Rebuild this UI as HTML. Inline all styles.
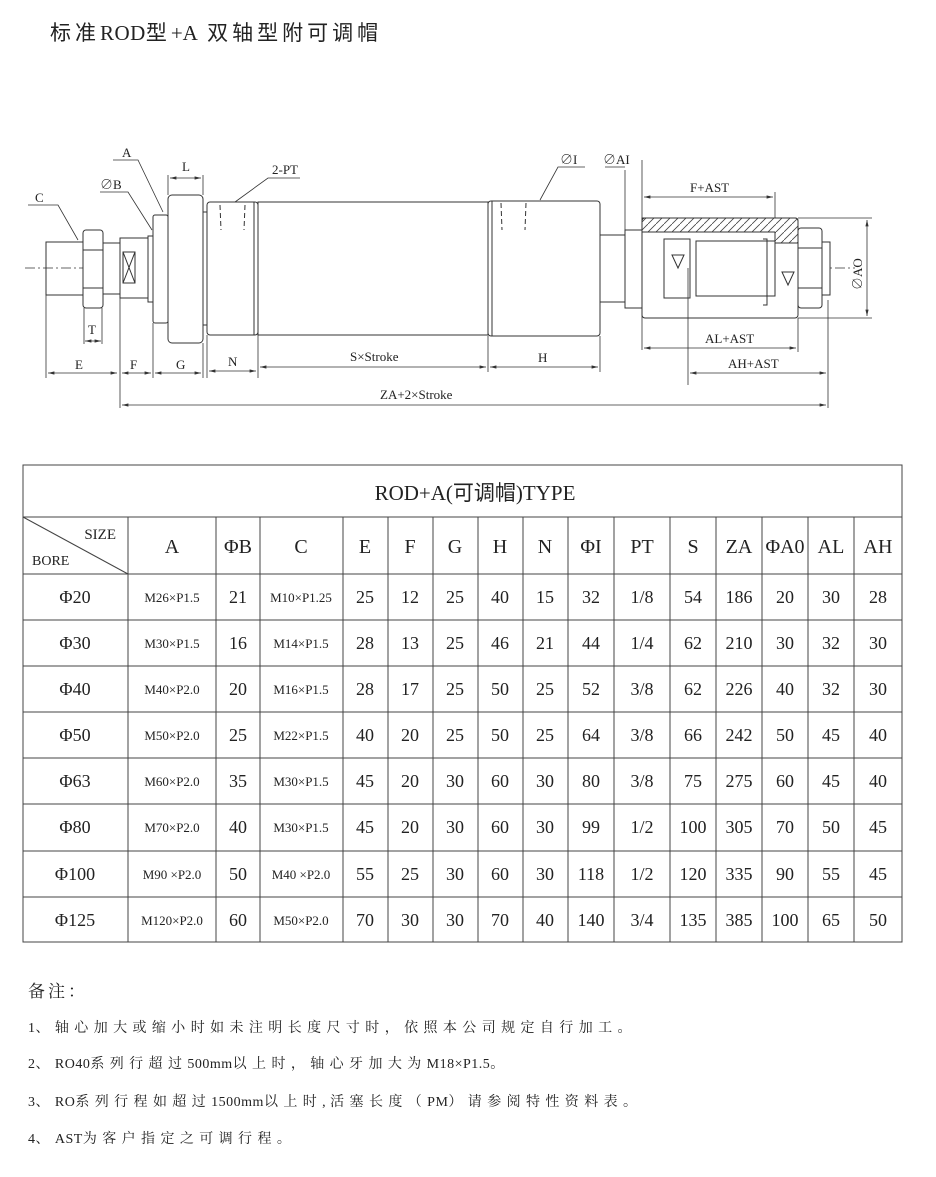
<!DOCTYPE html>
<html><head><meta charset="utf-8"><style>
html,body{margin:0;padding:0;background:#fff}
svg{display:block}
text{font-family:"Liberation Serif","Noto Serif CJK SC",serif;fill:#222}
.cj{font-family:"Liberation Serif","Noto Sans CJK SC",sans-serif}
.d{font-size:18px;text-anchor:middle}
.m{font-size:13px;text-anchor:middle}
.h{font-size:20px;text-anchor:middle}
.l{font-size:13px}
.n{font-size:14px;letter-spacing:5.4px}
.n tspan.e{letter-spacing:0.5px}
</style></head><body>
<svg width="936" height="1177" viewBox="0 0 936 1177" xmlns="http://www.w3.org/2000/svg">
<defs>
<marker id="ar" markerWidth="8" markerHeight="6" refX="8" refY="3" orient="auto-start-reverse"><path d="M0,1 L8,3 L0,5 z" fill="#333"/></marker>
<pattern id="hat" width="8" height="8" patternUnits="userSpaceOnUse"><path d="M0,8 L8,0" stroke="#444" stroke-width="0.8"/></pattern>
</defs>
<text x="50" y="40" class="cj" style="font-size:21px;letter-spacing:4px">标准<tspan style="letter-spacing:0.5px">ROD</tspan>型<tspan style="letter-spacing:0">+A</tspan>  双轴型附可调帽</text>

<g stroke="#333" stroke-width="1" fill="#fff">
<line x1="25" y1="268" x2="855" y2="268" stroke-dasharray="10,3,2,3" stroke-width="0.8"/>
<rect x="46" y="242" width="37" height="53" fill="none"/>
<rect x="83" y="230" width="20" height="78" rx="3"/>
<line x1="83" y1="250" x2="103" y2="250"/><line x1="83" y1="288" x2="103" y2="288"/>
<rect x="103" y="243" width="17" height="51"/>
<rect x="120" y="238" width="28" height="60"/>
<rect x="123" y="252" width="12" height="31"/>
<line x1="123" y1="252" x2="135" y2="283"/><line x1="135" y1="252" x2="123" y2="283"/>
<rect x="148" y="236" width="5" height="66"/>
<rect x="153" y="215" width="15" height="108" rx="2"/>
<rect x="168" y="195" width="35" height="148" rx="4"/>
<rect x="203" y="212" width="4" height="113"/>
<rect x="207" y="202" width="51" height="133" rx="3"/>
<rect x="258" y="202" width="230" height="133"/>
<rect x="488" y="201" width="112" height="135" rx="3"/>
<line x1="492" y1="201" x2="492" y2="336"/>
<line x1="254" y1="202" x2="254" y2="335"/>
<rect x="600" y="235" width="25" height="67"/>
<rect x="625" y="230" width="17" height="78"/>
<rect x="642" y="218" width="156" height="100" rx="3"/>
<path d="M642,218 H795 Q798,218 798,221 V243 H775 V232 H642 Z" fill="url(#hat)"/>
<rect x="664" y="239" width="26" height="59" fill="none"/>
<rect x="696" y="241" width="79" height="55" fill="none"/>
<path d="M763,239 H767 V305 H763" fill="none"/>
<path d="M672,255 L678,268 L684,255 Z" fill="none"/>
<path d="M782,272 L788,285 L794,272 Z" fill="none"/>
<rect x="798" y="228" width="24" height="80" rx="3"/>
<line x1="798" y1="248" x2="822" y2="248"/><line x1="798" y1="288" x2="822" y2="288"/>
<rect x="822" y="242" width="8" height="53"/>
</g>
<g stroke="#333" stroke-width="1" stroke-dasharray="5,3" fill="none">
<line x1="220" y1="205" x2="221" y2="230"/><line x1="245" y1="205" x2="244" y2="230"/>
<line x1="501" y1="203" x2="502" y2="230"/><line x1="526" y1="203" x2="525" y2="230"/>
</g>
<g stroke="#333" stroke-width="0.8" fill="none">
<line x1="46" y1="295" x2="46" y2="378"/><line x1="120" y1="298" x2="120" y2="408"/>
<line x1="153" y1="323" x2="153" y2="378"/><line x1="203" y1="343" x2="203" y2="378"/>
<line x1="207" y1="335" x2="207" y2="378"/><line x1="258" y1="335" x2="258" y2="378"/>
<line x1="84" y1="308" x2="84" y2="344"/><line x1="102" y1="308" x2="102" y2="344"/>
<line x1="168" y1="175" x2="168" y2="195"/><line x1="203" y1="175" x2="203" y2="195"/>
<line x1="488" y1="336" x2="488" y2="372"/><line x1="600" y1="336" x2="600" y2="372"/>
<line x1="642" y1="160" x2="642" y2="350"/><line x1="775" y1="192" x2="775" y2="218"/>
<line x1="798" y1="318" x2="798" y2="352"/><line x1="688" y1="268" x2="688" y2="385"/>
<line x1="828" y1="300" x2="828" y2="408"/><line x1="625" y1="170" x2="625" y2="230"/>
<line x1="798" y1="218" x2="872" y2="218"/><line x1="798" y1="318" x2="872" y2="318"/>
<polyline points="28,205 58,205 78,240"/>
<polyline points="100,192 128,192 152,230"/>
<polyline points="113,160 138,160 163,212"/>
<polyline points="300,178 268,178 235,202"/>
<polyline points="585,167 558,167 540,200"/>
<polyline points="605,167 625,167"/>
</g>
<g stroke="#333" stroke-width="0.8" marker-start="url(#ar)" marker-end="url(#ar)">
<line x1="48" y1="373" x2="117" y2="373"/><line x1="122" y1="373" x2="151" y2="373"/>
<line x1="155" y1="373" x2="201" y2="373"/><line x1="209" y1="371" x2="256" y2="371"/>
<line x1="260" y1="367" x2="486" y2="367"/><line x1="490" y1="367" x2="598" y2="367"/>
<line x1="122" y1="405" x2="826" y2="405"/><line x1="85" y1="341" x2="101" y2="341"/>
<line x1="170" y1="178" x2="201" y2="178"/><line x1="644" y1="197" x2="773" y2="197"/>
<line x1="644" y1="348" x2="796" y2="348"/><line x1="690" y1="373" x2="826" y2="373"/>
<line x1="867" y1="220" x2="867" y2="316"/>
</g>
<g class="l">
<text x="122" y="157">A</text><text x="100" y="189">∅B</text><text x="35" y="202">C</text>
<text x="182" y="171">L</text><text x="272" y="174">2-PT</text><text x="88" y="334">T</text>
<text x="75" y="369">E</text><text x="130" y="369">F</text><text x="176" y="369">G</text>
<text x="228" y="366">N</text><text x="350" y="361">S×Stroke</text><text x="538" y="362">H</text>
<text x="380" y="399">ZA+2×Stroke</text><text x="560" y="164">∅I</text><text x="603" y="164">∅AI</text>
<text x="690" y="192">F+AST</text><text x="705" y="343">AL+AST</text><text x="728" y="368">AH+AST</text>
<text transform="translate(862,290) rotate(-90)">∅AO</text>
</g>

<g stroke="#444" stroke-width="1" fill="none">
<rect x="23" y="465" width="879" height="477"/>
<line x1="23" y1="517" x2="902" y2="517"/>
<line x1="23" y1="574" x2="902" y2="574"/><line x1="23" y1="620" x2="902" y2="620"/>
<line x1="23" y1="666" x2="902" y2="666"/><line x1="23" y1="712" x2="902" y2="712"/>
<line x1="23" y1="758" x2="902" y2="758"/><line x1="23" y1="804" x2="902" y2="804"/>
<line x1="23" y1="851" x2="902" y2="851"/><line x1="23" y1="897" x2="902" y2="897"/>
<path d="M128,517V942M216,517V942M260,517V942M343,517V942M388,517V942M433,517V942M478,517V942M523,517V942M568,517V942M614,517V942M670,517V942M716,517V942M762,517V942M808,517V942M854,517V942"/>
<line x1="23" y1="517" x2="128" y2="574"/>
</g>
<text x="475" y="500" class="cj h" style="font-size:21px">ROD+A(可调帽)TYPE</text>
<text x="116" y="539" style="font-size:15px;text-anchor:end">SIZE</text>
<text x="32" y="565" style="font-size:14px">BORE</text>
<g class="h">
<text x="172" y="553">A</text><text x="238" y="553">ΦB</text><text x="301" y="553">C</text>
<text x="365" y="553">E</text><text x="410" y="553">F</text><text x="455" y="553">G</text>
<text x="500" y="553">H</text><text x="545" y="553">N</text><text x="591" y="553">ΦI</text>
<text x="642" y="553">PT</text><text x="693" y="553">S</text><text x="739" y="553">ZA</text>
<text x="785" y="553">ΦA0</text><text x="831" y="553">AL</text><text x="878" y="553">AH</text>
</g>
<g class="d">
<text x="75" y="603">Φ20</text><text x="75" y="649">Φ30</text><text x="75" y="695">Φ40</text><text x="75" y="741">Φ50</text>
<text x="75" y="787">Φ63</text><text x="75" y="833">Φ80</text><text x="75" y="880">Φ100</text><text x="75" y="926">Φ125</text>
</g>
<g class="m">
<text x="172" y="602">M26×P1.5</text><text x="172" y="648">M30×P1.5</text><text x="172" y="694">M40×P2.0</text><text x="172" y="740">M50×P2.0</text>
<text x="172" y="786">M60×P2.0</text><text x="172" y="832">M70×P2.0</text><text x="172" y="879">M90 ×P2.0</text><text x="172" y="925">M120×P2.0</text>
<text x="301" y="602">M10×P1.25</text><text x="301" y="648">M14×P1.5</text><text x="301" y="694">M16×P1.5</text><text x="301" y="740">M22×P1.5</text>
<text x="301" y="786">M30×P1.5</text><text x="301" y="832">M30×P1.5</text><text x="301" y="879">M40 ×P2.0</text><text x="301" y="925">M50×P2.0</text>
</g>
<g class="d">
<text x="238" y="603">21</text><text x="238" y="649">16</text><text x="238" y="695">20</text><text x="238" y="741">25</text><text x="238" y="787">35</text><text x="238" y="833">40</text><text x="238" y="880">50</text><text x="238" y="926">60</text>
<text x="365" y="603">25</text><text x="365" y="649">28</text><text x="365" y="695">28</text><text x="365" y="741">40</text><text x="365" y="787">45</text><text x="365" y="833">45</text><text x="365" y="880">55</text><text x="365" y="926">70</text>
<text x="410" y="603">12</text><text x="410" y="649">13</text><text x="410" y="695">17</text><text x="410" y="741">20</text><text x="410" y="787">20</text><text x="410" y="833">20</text><text x="410" y="880">25</text><text x="410" y="926">30</text>
<text x="455" y="603">25</text><text x="455" y="649">25</text><text x="455" y="695">25</text><text x="455" y="741">25</text><text x="455" y="787">30</text><text x="455" y="833">30</text><text x="455" y="880">30</text><text x="455" y="926">30</text>
<text x="500" y="603">40</text><text x="500" y="649">46</text><text x="500" y="695">50</text><text x="500" y="741">50</text><text x="500" y="787">60</text><text x="500" y="833">60</text><text x="500" y="880">60</text><text x="500" y="926">70</text>
<text x="545" y="603">15</text><text x="545" y="649">21</text><text x="545" y="695">25</text><text x="545" y="741">25</text><text x="545" y="787">30</text><text x="545" y="833">30</text><text x="545" y="880">30</text><text x="545" y="926">40</text>
<text x="591" y="603">32</text><text x="591" y="649">44</text><text x="591" y="695">52</text><text x="591" y="741">64</text><text x="591" y="787">80</text><text x="591" y="833">99</text><text x="591" y="880">118</text><text x="591" y="926">140</text>
<text x="642" y="603">1/8</text><text x="642" y="649">1/4</text><text x="642" y="695">3/8</text><text x="642" y="741">3/8</text><text x="642" y="787">3/8</text><text x="642" y="833">1/2</text><text x="642" y="880">1/2</text><text x="642" y="926">3/4</text>
<text x="693" y="603">54</text><text x="693" y="649">62</text><text x="693" y="695">62</text><text x="693" y="741">66</text><text x="693" y="787">75</text><text x="693" y="833">100</text><text x="693" y="880">120</text><text x="693" y="926">135</text>
<text x="739" y="603">186</text><text x="739" y="649">210</text><text x="739" y="695">226</text><text x="739" y="741">242</text><text x="739" y="787">275</text><text x="739" y="833">305</text><text x="739" y="880">335</text><text x="739" y="926">385</text>
<text x="785" y="603">20</text><text x="785" y="649">30</text><text x="785" y="695">40</text><text x="785" y="741">50</text><text x="785" y="787">60</text><text x="785" y="833">70</text><text x="785" y="880">90</text><text x="785" y="926">100</text>
<text x="831" y="603">30</text><text x="831" y="649">32</text><text x="831" y="695">32</text><text x="831" y="741">45</text><text x="831" y="787">45</text><text x="831" y="833">50</text><text x="831" y="880">55</text><text x="831" y="926">65</text>
<text x="878" y="603">28</text><text x="878" y="649">30</text><text x="878" y="695">30</text><text x="878" y="741">40</text><text x="878" y="787">40</text><text x="878" y="833">45</text><text x="878" y="880">45</text><text x="878" y="926">50</text>
</g>

<g class="cj">
<text x="28" y="997" style="font-size:17px;letter-spacing:3px">备注：</text>
<text x="28" y="1032" class="n"><tspan class="e">1</tspan>、轴心加大或缩小时如未注明长度尺寸时，依照本公司规定自行加工。</text>
<text x="28" y="1068" class="n"><tspan class="e">2</tspan>、<tspan class="e">RO40</tspan>系列行超过<tspan class="e">500mm</tspan>以上时，轴心牙加大为<tspan class="e">M18×P1.5</tspan>。</text>
<text x="28" y="1106" class="n"><tspan class="e">3</tspan>、<tspan class="e">RO</tspan>系列行程如超过<tspan class="e">1500mm</tspan>以上时<tspan class="e">, </tspan>活塞长度（<tspan class="e">PM</tspan>）请参阅特性资料表。</text>
<text x="28" y="1143" class="n"><tspan class="e">4</tspan>、<tspan class="e">AST</tspan>为客户指定之可调行程。</text>
</g>
</svg>
</body></html>
